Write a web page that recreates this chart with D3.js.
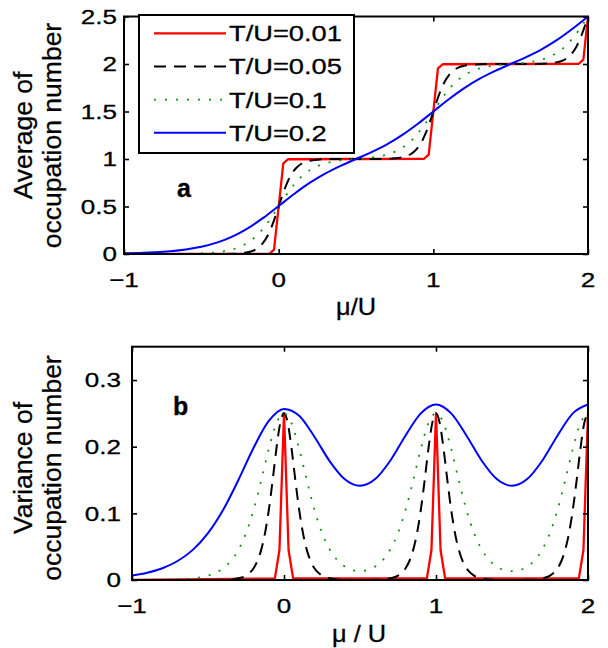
<!DOCTYPE html>
<html>
<head>
<meta charset="utf-8">
<script src="https://cdn.jsdelivr.net/npm/d3@7"></script>
<style>
  html, body { margin: 0; padding: 0; background: #fff; }
  svg { display: block; }
  text { font-family: "Liberation Sans", Arial, Helvetica, sans-serif; fill: #000; stroke: #000; stroke-width: 0.3; }
</style>
</head>
<body>
<svg id="chart" width="608" height="648"></svg>
<script>
const svg = d3.select("#chart");

// ---- values ----
const muRed = [-1, -0.06, -0.03, 0, 0.03, 0.06, 0.94, 0.97, 1, 1.03, 1.06, 1.94, 1.97, 2];
const avgRed = [0, 0.0025, 0.047, 0.5, 0.953, 0.9975, 1.0025, 1.047, 1.5, 1.953, 1.9975, 2.0025, 2.047, 2.5];
const varRed = [0, 0.0025, 0.045, 0.25, 0.045, 0.0025, 0.0025, 0.045, 0.25, 0.045, 0.0025, 0.0025, 0.045, 0.25];

const muBlack = [-1, -0.8, -0.6, -0.5, -0.4, -0.35, -0.3, -0.25, -0.2, -0.175, -0.15, -0.125, -0.1, -0.075, -0.05, -0.025,
  0, 0.025, 0.05, 0.075, 0.1, 0.125, 0.15, 0.175, 0.2, 0.25, 0.3, 0.35, 0.4, 0.5,
  0.6, 0.65, 0.7, 0.75, 0.8, 0.825, 0.85, 0.875, 0.9, 0.925, 0.95, 0.975,
  1, 1.025, 1.05, 1.075, 1.1, 1.125, 1.15, 1.175, 1.2, 1.25, 1.3, 1.35, 1.4, 1.5,
  1.6, 1.65, 1.7, 1.75, 1.8, 1.825, 1.85, 1.875, 1.9, 1.925, 1.95, 1.975, 2];
const avgBlack = [0, 0, 0, 0, 0.0003, 0.0009, 0.0025, 0.0067, 0.018, 0.0293, 0.0474, 0.0759, 0.1192, 0.1824, 0.2689, 0.3775,
  0.5, 0.6225, 0.7311, 0.8176, 0.8808, 0.9241, 0.9526, 0.9707, 0.982, 0.9933, 0.9975, 0.9991, 0.9997, 1,
  1.0003, 1.0009, 1.0025, 1.0067, 1.018, 1.0293, 1.0474, 1.0759, 1.1192, 1.1824, 1.2689, 1.3775,
  1.5, 1.6225, 1.7311, 1.8176, 1.8808, 1.9241, 1.9526, 1.9707, 1.982, 1.9933, 1.9975, 1.9991, 1.9997, 2,
  2.0003, 2.0009, 2.0025, 2.0067, 2.018, 2.0293, 2.0474, 2.0759, 2.1192, 2.1824, 2.2689, 2.3775, 2.5];
const varBlack = [0, 0, 0, 0, 0.0003, 0.0009, 0.0025, 0.0066, 0.0177, 0.0285, 0.0452, 0.0701, 0.105, 0.1491, 0.1966, 0.235,
  0.25, 0.235, 0.1966, 0.1491, 0.105, 0.0701, 0.0452, 0.0285, 0.0177, 0.0066, 0.0025, 0.0009, 0.0003, 0.0001,
  0.0003, 0.0009, 0.0025, 0.0066, 0.0177, 0.0285, 0.0452, 0.0701, 0.105, 0.1491, 0.1966, 0.235,
  0.25, 0.235, 0.1966, 0.1491, 0.105, 0.0701, 0.0452, 0.0285, 0.0177, 0.0066, 0.0025, 0.0009, 0.0003, 0.0001,
  0.0003, 0.0009, 0.0025, 0.0066, 0.0177, 0.0285, 0.0452, 0.0701, 0.105, 0.1491, 0.1966, 0.235, 0.25];

const muGreen = [-1, -0.95, -0.9, -0.85, -0.8, -0.75, -0.7, -0.65, -0.6, -0.55, -0.5, -0.45, -0.4, -0.35, -0.3, -0.25, -0.2, -0.15, -0.1, -0.05,
  0, 0.05, 0.1, 0.15, 0.2, 0.25, 0.3, 0.35, 0.4, 0.45, 0.5, 0.55, 0.6, 0.65, 0.7, 0.75, 0.8, 0.85, 0.9, 0.95,
  1, 1.05, 1.1, 1.15, 1.2, 1.25, 1.3, 1.35, 1.4, 1.45, 1.5, 1.55, 1.6, 1.65, 1.7, 1.75, 1.8, 1.85, 1.9, 1.95, 2];
const avgGreen = [0, 0.0001, 0.0001, 0.0002, 0.0003, 0.0006, 0.0009, 0.0015, 0.0025, 0.0041, 0.0067, 0.011, 0.018, 0.0293, 0.0474, 0.0759, 0.1192, 0.1824, 0.2689, 0.3775,
  0.5, 0.6225, 0.7312, 0.8178, 0.8811, 0.9247, 0.9535, 0.9722, 0.9845, 0.9931, 1, 1.0069, 1.0155, 1.0278, 1.0465, 1.0753, 1.1189, 1.1822, 1.2688, 1.3775,
  1.5, 1.6225, 1.7312, 1.8178, 1.8811, 1.9247, 1.9535, 1.9722, 1.9845, 1.9931, 2, 2.0069, 2.0155, 2.0278, 2.0465, 2.0753, 2.1189, 2.1822, 2.2688, 2.3775, 2.5];
const varGreen = [0, 0.0001, 0.0001, 0.0002, 0.0003, 0.0006, 0.0009, 0.0015, 0.0025, 0.0041, 0.0066, 0.0109, 0.0177, 0.0285, 0.0452, 0.0701, 0.105, 0.1491, 0.1966, 0.235,
  0.2501, 0.2351, 0.1967, 0.1494, 0.1053, 0.0707, 0.0461, 0.0299, 0.0201, 0.0149, 0.0133, 0.0149, 0.0201, 0.0299, 0.0461, 0.0707, 0.1053, 0.1494, 0.1967, 0.2351,
  0.2501, 0.2351, 0.1967, 0.1494, 0.1053, 0.0707, 0.0461, 0.0299, 0.0201, 0.0149, 0.0133, 0.0149, 0.0201, 0.0299, 0.0461, 0.0707, 0.1053, 0.1494, 0.1967, 0.2351, 0.2501];

const muBlue = [-1, -0.9, -0.8, -0.7, -0.6, -0.5, -0.4, -0.3, -0.2, -0.1, 0, 0.1, 0.2, 0.3, 0.4, 0.5,
  0.6, 0.7, 0.8, 0.9, 1, 1.1, 1.2, 1.3, 1.4, 1.5, 1.6, 1.7, 1.8, 1.9, 2];
const avgBlue = [0.0067, 0.011, 0.018, 0.0293, 0.0475, 0.0759, 0.1194, 0.1829, 0.2701, 0.38, 0.505, 0.6319, 0.7478, 0.8461, 0.9278, 1.0001,
  1.0724, 1.1544, 1.2533, 1.3706, 1.5, 1.6294, 1.7467, 1.8456, 1.9276, 2, 2.0724, 2.1544, 2.2533, 2.3706, 2.5];
const varBlue = [0.0066, 0.0109, 0.0177, 0.0285, 0.0452, 0.0703, 0.1054, 0.15, 0.1985, 0.2387, 0.2567, 0.2463, 0.215, 0.1784, 0.1511, 0.1413,
  0.1514, 0.1793, 0.2169, 0.25, 0.2634, 0.25, 0.2169, 0.1793, 0.1514, 0.1413, 0.1514, 0.1793, 0.2169, 0.25, 0.2634];

const legendLabels = ["T/U=0.01", "T/U=0.05", "T/U=0.1", "T/U=0.2"];
const xTicks = [-1, 0, 1, 2];
const xTickLabels = ["\u22121", "0", "1", "2"];
const yTicksA = [0, 0.5, 1, 1.5, 2, 2.5];
const yTicksB = [0, 0.1, 0.2, 0.3];

// ---- styling ----
const series = [
  { mu: muRed, avg: avgRed, vari: varRed, color: "#ff0000", width: 2.3, dash: null, curve: d3.curveLinear },
  { mu: muBlack, avg: avgBlack, vari: varBlack, color: "#000000", width: 2, dash: "12,8", curve: d3.curveMonotoneX },
  { mu: muGreen, avg: avgGreen, vari: varGreen, color: "#139213", width: 1.8, dash: "2,9", curve: d3.curveMonotoneX },
  { mu: muBlue, avg: avgBlue, vari: varBlue, color: "#0000ff", width: 2, dash: null, curve: d3.curveMonotoneX },
];

const panels = [
  { id: "a", left: 124, right: 588, top: 16.5, bottom: 254, yMax: 2.5, yTicks: yTicksA, key: "avg",
    tickRight: 117, xTickBase: 287, ylab: ["Average of", "occupation number"], ylabMid: 135.5,
    xlab: "\u03bc/U", xlabX: 356, xlabY: 315, tag: { x: 177, y: 197 } },
  { id: "b", left: 132, right: 588, top: 346.7, bottom: 580, yMax: 0.35, yTicks: yTicksB, key: "vari",
    tickRight: 121, xTickBase: 613, ylab: ["Variance of", "occupation number"], ylabMid: 468,
    xlab: "\u03bc / U", xlabX: 359, xlabY: 642, tag: { x: 173, y: 415 } },
];

const tickFont = 20.5;
const tickStretch = 1.27;

function label(parent, x, y, str, opts) {
  const o = Object.assign({ size: tickFont, sx: 1, anchor: "start", weight: "normal", rotate: 0 }, opts);
  const g = parent.append("g").attr("transform", `translate(${x},${y}) rotate(${o.rotate}) scale(${o.sx},1)`);
  g.append("text")
    .attr("text-anchor", o.anchor)
    .attr("font-size", o.size)
    .attr("font-weight", o.weight)
    .text(str);
  return g;
}

function drawPanel(p) {
  const x = d3.scaleLinear().domain([-1, 2]).range([p.left, p.right]);
  const y = d3.scaleLinear().domain([0, p.yMax]).range([p.bottom, p.top]);
  const g = svg.append("g").attr("class", "panel-" + p.id);

  g.append("clipPath").attr("id", "clip-" + p.id)
    .append("rect")
    .attr("x", p.left).attr("y", p.top)
    .attr("width", p.right - p.left).attr("height", p.bottom - p.top);

  const plot = g.append("g").attr("clip-path", `url(#clip-${p.id})`);

  series.forEach((s) => {
    const pts = s.mu.map((m, i) => [m, s[p.key][i]]);
    const line = d3.line().x((d) => x(d[0])).y((d) => y(d[1])).curve(s.curve);
    plot.append("path")
      .attr("d", line(pts))
      .attr("fill", "none")
      .attr("stroke", s.color)
      .attr("stroke-width", s.width)
      .attr("stroke-dasharray", s.dash)
      .attr("stroke-linejoin", "round");
  });

  // inward ticks on all four sides, matlab style
  const axes = [
    d3.axisBottom(x).tickValues(xTicks).tickSize(-5).tickFormat(""),
    d3.axisTop(x).tickValues(xTicks).tickSize(-5).tickFormat(""),
    d3.axisLeft(y).tickValues(p.yTicks).tickSize(-5).tickFormat(""),
    d3.axisRight(y).tickValues(p.yTicks).tickSize(-5).tickFormat(""),
  ];
  const offsets = [`0,${p.bottom}`, `0,${p.top}`, `${p.left},0`, `${p.right},0`];
  axes.forEach((ax, i) => {
    g.append("g")
      .attr("transform", `translate(${offsets[i]})`)
      .call(ax)
      .call((sel) => sel.select(".domain").remove())
      .call((sel) => sel.selectAll("line").attr("stroke", "#000").attr("stroke-width", 1.6));
  });

  g.append("rect")
    .attr("x", p.left).attr("y", p.top)
    .attr("width", p.right - p.left).attr("height", p.bottom - p.top)
    .attr("fill", "none").attr("stroke", "#000").attr("stroke-width", 2);

  xTicks.forEach((t, i) => {
    label(g, x(t), p.xTickBase, xTickLabels[i], { anchor: "middle", sx: tickStretch });
  });
  p.yTicks.forEach((t) => {
    label(g, p.tickRight, y(t) + tickFont * 0.358, String(t), { anchor: "end", sx: tickStretch });
  });

  label(g, p.xlabX, p.xlabY, p.xlab, { anchor: "middle", size: 23, sx: 1.1 });
  label(g, 32, p.ylabMid, p.ylab[0], { anchor: "middle", size: 26.5, rotate: -90 });
  label(g, 61, p.ylabMid, p.ylab[1], { anchor: "middle", size: 26.5, rotate: -90 });
  label(g, p.tag.x, p.tag.y, p.id, { size: 25, weight: "bold" });

  return { x, y, g };
}

function drawLegend(parent) {
  const box = { x: 139, y: 15, w: 215, h: 138 };
  const g = parent.append("g").attr("class", "legend");
  g.append("rect")
    .attr("x", box.x).attr("y", box.y).attr("width", box.w).attr("height", box.h)
    .attr("fill", "#fff").attr("stroke", "#000").attr("stroke-width", 2);

  const rowY = d3.scalePoint().domain(d3.range(series.length)).range([33.3, 132.7]);
  series.forEach((s, i) => {
    const yy = rowY(i);
    g.append("line")
      .attr("x1", 154).attr("x2", 226).attr("y1", yy).attr("y2", yy)
      .attr("stroke", s.color).attr("stroke-width", s.width)
      .attr("stroke-dasharray", s.dash);
    label(g, 229, yy + 8, legendLabels[i], { size: 22, sx: 1.24 });
  });
}

const pa = drawPanel(panels[0]);
drawLegend(pa.g);
drawPanel(panels[1]);
</script>
</body>
</html>
